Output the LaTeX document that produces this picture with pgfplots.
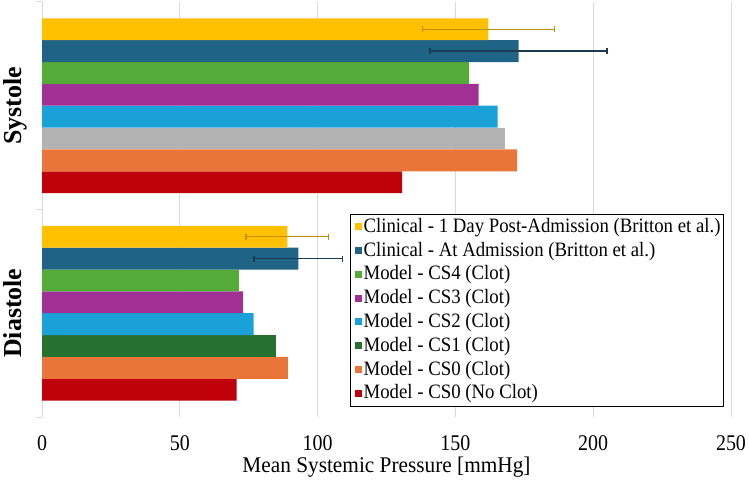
\documentclass[border=0pt]{standalone}
\usepackage{fontspec}
\setmainfont{Liberation Serif}
\newfontfamily\tickfont[FakeStretch=0.89]{Liberation Serif}
\newfontfamily\legfont[FakeStretch=0.92]{Liberation Serif}
\newfontfamily\labfont[FakeStretch=0.95]{Liberation Serif}
\usepackage{pgfplots}
\pgfplotsset{compat=1.18}
\usetikzlibrary{calc}
\definecolor{cYel}{HTML}{FFC000}
\definecolor{cAdm}{HTML}{1F6487}
\definecolor{cCSf}{HTML}{55AB37}
\definecolor{cCSt}{HTML}{A03094}
\definecolor{cCSw}{HTML}{1AA2D8}
\definecolor{cCSo}{HTML}{267130}
\definecolor{cGray}{HTML}{B3B3B3}
\definecolor{cOra}{HTML}{E97538}
\definecolor{cRed}{HTML}{C0000B}
\definecolor{cErrY}{HTML}{BF9000}
\definecolor{cErrA}{HTML}{1B3A52}
\definecolor{cGrid}{HTML}{D9D9D9}
\begin{document}
\begin{tikzpicture}
\begin{axis}[
  name=ax,
  scale only axis, width=689bp, height=415bp,
  xmin=0, xmax=250, ymin=-0.5, ymax=1.5,
  xbar, bar width=0.1054,
  axis lines*=left,
  x axis line style={draw=none},
  y axis line style={draw=cGrid, line width=1bp},
  xtick={0,50,...,250},
  x tick style={draw=none},
  xmajorgrids, grid style={draw=cGrid, line width=1bp},
  ytick={-0.5,0.5,1.5}, yticklabels={},
  y tick style={draw=cGrid, line width=1bp},
  tick align=outside, major tick length=6bp,
  /pgf/number format/assume math mode=true,
  xticklabel style={font=\tickfont\fontsize{22.5}{27}\selectfont, anchor=base, inner sep=0pt, yshift=-27bp},
  xlabel={Mean Systemic Pressure [mmHg]},
  xlabel style={font=\labfont\fontsize{22.5}{27}\selectfont, at={(axis description cs:0.5,0)}, anchor=base, inner sep=0pt, yshift=-55bp},
  reverse legend,
  legend cell align=left,
  legend image code/.code={\path (0bp,0bp); \fill[#1] (3.5bp,-3bp) rectangle (10.5bp,4bp);},
  legend style={at={(axis description cs:0.9898,0.0241)}, anchor=south east,
    draw=black, line width=0.8bp, fill=white, inner sep=1bp, row sep=0pt,
    font=\legfont\fontsize{20.5}{24}\selectfont,
    nodes={inner sep=2bp, text height=15bp, text depth=4.8bp}},
  error bars/x dir=both, error bars/x explicit,
]
\addplot[fill=cRed, draw=none, bar shift=-0.3689] coordinates {(130.7,1) (70.6,0)};
\addlegendentry{Model - CS0 (No Clot)}
\addplot[fill=cOra, draw=none, bar shift=-0.2635] coordinates {(172.4,1) (89.2,0)};
\addlegendentry{Model - CS0 (Clot)}
\addplot[fill=cCSo, draw=none, bar shift=-0.1581] coordinates {(85.0,0)};
\addlegendentry{Model - CS1 (Clot)}
\addplot[fill=cGray, draw=none, bar shift=-0.1581, forget plot] coordinates {(168.1,1)};
\addplot[fill=cCSw, draw=none, bar shift=-0.0527] coordinates {(165.3,1) (76.8,0)};
\addlegendentry{Model - CS2 (Clot)}
\addplot[fill=cCSt, draw=none, bar shift=0.0527] coordinates {(158.4,1) (73.0,0)};
\addlegendentry{Model - CS3 (Clot)}
\addplot[fill=cCSf, draw=none, bar shift=0.1581] coordinates {(155.0,1) (71.4,0)};
\addlegendentry{Model - CS4 (Clot)}
\addplot[fill=cAdm, draw=none, bar shift=0.2635,
  error bars/error bar style={color=cErrA, line width=1.3bp},
  error bars/error mark options={rotate=90, color=cErrA, mark size=3bp, line width=1.3bp}]
  coordinates {(172.9,1) +- (32.1,0) (93.0,0) +- (16.1,0)};
\addlegendentry{Clinical - At Admission (Britton et al.)}
\addplot[fill=cYel, draw=none, bar shift=0.3689,
  error bars/error bar style={color=cErrY, line width=1.3bp},
  error bars/error mark options={rotate=90, color=cErrY, mark size=3bp, line width=1.3bp}]
  coordinates {(162.0,1) +- (24.0,0) (89.0,0) +- (15.0,0)};
\addlegendentry{Clinical - 1 Day Post-Admission (Britton et al.)}
\end{axis}
\node[rotate=90, anchor=base, font=\bfseries\fontsize{26}{31}\selectfont] at ($(ax.north west)!0.25!(ax.south west)+(-21bp,0)$) {Systole};
\node[rotate=90, anchor=base, font=\bfseries\fontsize{26}{31}\selectfont] at ($(ax.north west)!0.75!(ax.south west)+(-21bp,0)$) {Diastole};
\pgfresetboundingbox
\path ([shift={(-42bp,-68bp)}]ax.south west) rectangle ([shift={(18bp,2bp)}]ax.north east);
\end{tikzpicture}
\end{document}
